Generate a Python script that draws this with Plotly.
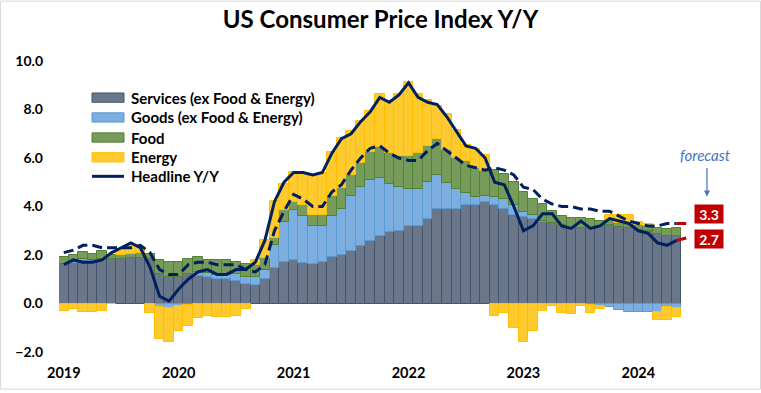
import pandas as pd
import plotly.graph_objects as go

# ---------------- data ----------------
months = pd.date_range("2019-06-01", periods=65, freq="MS").strftime("%Y-%m").tolist()
forecast_month = "2024-11"

services = [1.61, 1.65, 1.75, 1.75, 1.84, 1.82, 1.84, 1.88, 1.88, 1.84,
            1.20, 1.09, 1.09, 1.20, 1.15, 1.09, 1.00, 1.00, 0.93, 0.79,
            0.76, 0.99, 1.47, 1.70, 1.81, 1.67, 1.61, 1.70, 1.90, 2.01,
            2.18, 2.38, 2.59, 2.79, 2.93, 2.99, 3.18, 3.20, 3.47, 3.88,
            3.88, 3.88, 4.08, 4.08, 4.19, 4.08, 3.88, 3.67, 3.55, 3.47,
            3.37, 3.30, 3.24, 3.13, 3.13, 3.13, 3.21, 3.24, 3.17, 3.10,
            3.03, 2.97, 2.86, 2.80, 2.80]

goods = [0.00, 0.05, 0.07, 0.05, 0.00, 0.00, 0.00, 0.00, 0.00, 0.00,
         -0.15, -0.17, -0.12, -0.05, 0.15, 0.18, 0.17, 0.17, 0.27, 0.30,
         0.34, 0.41, 0.95, 1.67, 2.04, 1.95, 1.60, 1.51, 1.71, 1.88,
         2.24, 2.42, 2.51, 2.39, 1.98, 1.81, 1.53, 1.51, 1.53, 1.43,
         1.10, 0.83, 0.49, 0.31, 0.25, 0.31, 0.42, 0.41, 0.21, 0.16,
         0.05, 0.00, 0.00, 0.00, 0.00, -0.05, -0.10, -0.14, -0.26, -0.37,
         -0.37, -0.37, -0.37, -0.16, -0.20]

food = [0.30, 0.30, 0.30, 0.25, 0.33, 0.20, 0.18, 0.18, 0.20, 0.20,
        0.61, 0.61, 0.61, 0.63, 0.60, 0.54, 0.64, 0.64, 0.50, 0.52,
        0.50, 0.48, 0.27, 0.48, 0.34, 0.45, 0.46, 0.46, 0.81, 0.89,
        0.89, 1.00, 1.13, 1.26, 1.29, 1.27, 1.36, 1.49, 1.48, 1.49,
        1.37, 1.30, 1.30, 1.19, 1.04, 1.12, 1.05, 0.95, 0.84, 0.70,
        0.69, 0.51, 0.38, 0.41, 0.38, 0.34, 0.19, 0.20, 0.16, 0.17,
        0.20, 0.22, 0.27, 0.26, 0.30]

energy = [-0.30, -0.22, -0.37, -0.37, -0.30, -0.02, 0.20, 0.36, 0.23, -0.40,
          -1.33, -1.42, -1.00, -0.86, -0.60, -0.50, -0.57, -0.55, -0.50, -0.23,
          0.21, 0.75, 1.53, 1.09, 1.22, 1.33, 1.58, 1.70, 1.81, 2.06,
          1.81, 1.72, 1.70, 2.21, 2.14, 2.58, 3.05, 2.45, 1.90, 1.35,
          1.45, 1.15, 0.66, 0.81, 0.64, -0.50, -0.39, -1.00, -1.60, -1.12,
          -0.30, -0.10, -0.39, -0.42, -0.10, -0.34, -0.14, 0.20, 0.30, 0.38,
          0.12, 0.08, -0.30, -0.50, -0.34]

headline = [1.6, 1.8, 1.7, 1.7, 1.8, 2.1, 2.3, 2.5, 2.3, 1.5,
            0.3, 0.1, 0.6, 1.0, 1.3, 1.4, 1.2, 1.2, 1.4, 1.4,
            1.7, 2.6, 4.2, 5.0, 5.4, 5.4, 5.3, 5.4, 6.2, 6.8,
            7.0, 7.5, 7.9, 8.5, 8.3, 8.6, 9.1, 8.5, 8.3, 8.2,
            7.7, 7.1, 6.5, 6.4, 6.0, 5.0, 4.9, 4.0, 3.0, 3.2,
            3.7, 3.7, 3.2, 3.1, 3.4, 3.1, 3.2, 3.5, 3.4, 3.3,
            3.0, 2.9, 2.5, 2.4, 2.6]

core = [2.1, 2.2, 2.4, 2.4, 2.3, 2.3, 2.3, 2.3, 2.4, 2.1,
        1.4, 1.2, 1.2, 1.6, 1.7, 1.7, 1.6, 1.6, 1.6, 1.4,
        1.3, 1.6, 3.0, 3.8, 4.5, 4.3, 4.0, 4.0, 4.6, 4.9,
        5.5, 6.0, 6.4, 6.5, 6.2, 6.0, 5.9, 5.9, 6.3, 6.6,
        6.3, 6.0, 5.7, 5.6, 5.5, 5.6, 5.5, 5.3, 4.8, 4.7,
        4.3, 4.1, 4.0, 4.0, 3.9, 3.9, 3.8, 3.8, 3.6, 3.4,
        3.3, 3.2, 3.2, 3.3, 3.3]

headline_forecast = 2.7
core_forecast = 3.3

year_ticks = ["2019-06", "2020-06", "2021-06", "2022-06", "2023-06", "2024-06"]
year_labels = ["2019", "2020", "2021", "2022", "2023", "2024"]

series_names = ["Services (ex Food & Energy)", "Goods (ex Food & Energy)", "Food", "Energy"]

# ---------------- styling ----------------
FONT = "Lato"
fills = ["#6A778A", "#7DAEE0", "#779B5A", "#FFCA2E"]
edges = ["#44546A", "#5B9BD5", "#548235", "#FFC000"]
NAVY = "#002060"
RED = "#C00000"
DASH = "10px,5px"

fig = go.Figure()
for name, vals, fc, ec in zip(series_names, [services, goods, food, energy], fills, edges):
    fig.add_trace(go.Bar(x=months, y=vals, name=name, marker=dict(color=fc, line=dict(color=ec, width=1)),
                         showlegend=False))

fig.add_trace(go.Scatter(x=months, y=core, mode="lines", line=dict(color=NAVY, width=3, dash=DASH),
                         name="Core Y/Y", showlegend=False))
fig.add_trace(go.Scatter(x=months, y=headline, mode="lines", line=dict(color=NAVY, width=3),
                         name="Headline Y/Y", showlegend=False))
fig.add_trace(go.Scatter(x=[months[-1], forecast_month], y=[core[-1], core_forecast], mode="lines",
                         line=dict(color=RED, width=3, dash=DASH), showlegend=False))
fig.add_trace(go.Scatter(x=[months[-1], forecast_month], y=[headline[-1], headline_forecast], mode="lines",
                         line=dict(color=RED, width=3), showlegend=False))

W, H = 761, 393
L, R, T, B = 59, 70, 61, 38
PW, PH = W - L - R, H - T - B


def px(xp):
    return (xp - L) / PW


def py(yp):
    return (H - B - yp) / PH


shapes = []
annotations = []

# manual legend
legend_rows = [98, 118, 138.3, 158.3]
for name, fc, ec, yc in zip(series_names, fills, edges, legend_rows):
    shapes.append(dict(type="rect", xref="paper", yref="paper", x0=px(92), x1=px(124),
                       y0=py(yc + 4.7), y1=py(yc - 4.7), fillcolor=fc, line=dict(color=ec, width=1)))
    annotations.append(dict(text=name, xref="paper", yref="paper", x=px(129), y=py(yc),
                            xanchor="left", yanchor="middle", showarrow=False,
                            font=dict(family=FONT, size=15, color="#000000", weight="bold")))
shapes.append(dict(type="line", xref="paper", yref="paper", x0=px(92), x1=px(124),
                   y0=py(177.5), y1=py(177.5), line=dict(color=NAVY, width=3)))
annotations.append(dict(text="Headline Y/Y", xref="paper", yref="paper", x=px(129), y=py(177.5),
                        xanchor="left", yanchor="middle", showarrow=False,
                        font=dict(family=FONT, size=15, color="#000000", weight="bold")))

# forecast labels
for val, yc in [(core_forecast, 216), (headline_forecast, 241)]:
    annotations.append(dict(text=f"{val:.1f}", xref="paper", yref="paper", x=px(709), y=py(yc),
                            xanchor="center", yanchor="middle", showarrow=False,
                            width=28, height=18, bgcolor=RED, borderpad=0,
                            font=dict(family=FONT, size=14, color="#FFFFFF", weight="bold")))
annotations.append(dict(text="<i>forecast</i>", xref="paper", yref="paper", x=px(706), y=py(156),
                        xanchor="center", yanchor="middle", showarrow=False,
                        font=dict(family=FONT, size=15, color="#4472C4")))
annotations.append(dict(text="", xref="paper", yref="paper", x=px(707), y=py(198), ax=0, ay=-30,
                        showarrow=True, arrowhead=2, arrowsize=1, arrowwidth=1.2,
                        arrowcolor="#4472C4", standoff=0))

# chart border
shapes.append(dict(type="rect", xref="paper", yref="paper", x0=px(0.5), x1=px(760.5),
                   y0=py(392.5), y1=py(0.5), line=dict(color="#D9D9D9", width=1), fillcolor="rgba(0,0,0,0)"))

fig.update_layout(
    width=W, height=H, autosize=False,
    margin=dict(l=L, r=R, t=T, b=B, pad=0),
    paper_bgcolor="#FFFFFF", plot_bgcolor="#FFFFFF",
    barmode="relative", bargap=0,
    title=dict(text="US Consumer Price Index Y/Y", x=0.5, xanchor="center", y=1 - 20 / H, yanchor="middle",
               font=dict(family=FONT, size=24, color="#000000", weight="bold")),
    xaxis=dict(type="category", categoryorder="array", categoryarray=months + [forecast_month],
               range=[-0.5, 65.5], tickmode="array", tickvals=year_ticks, ticktext=year_labels,
               showgrid=False, zeroline=False, showline=False, ticks="", ticklabelstandoff=10,
               tickfont=dict(family=FONT, size=14.5, color="#000000", weight="bold")),
    yaxis=dict(range=[-2, 10], dtick=2, tick0=0, tickformat=".1f", showgrid=False, zeroline=False,
               showline=False, ticks="", ticklabelstandoff=15,
               tickfont=dict(family=FONT, size=14, color="#000000", weight="bold")),
    shapes=shapes, annotations=annotations,
    showlegend=False,
)

fig.write_html("out.html", config={"displayModeBar": False},
               post_script="document.body.style.margin='0px';document.body.style.overflow='hidden';")
